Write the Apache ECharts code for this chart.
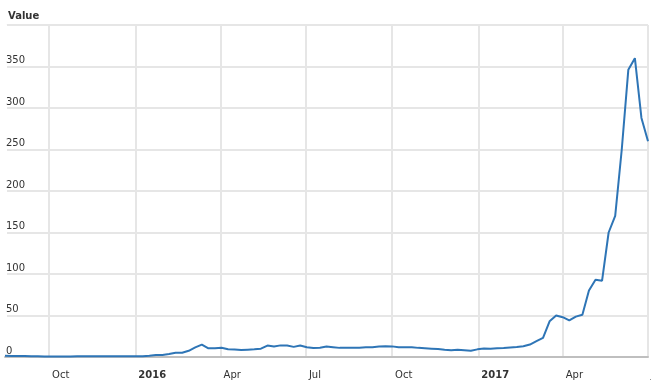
<!DOCTYPE html>
<html>
<head>
<meta charset="utf-8">
<script src="https://cdn.jsdelivr.net/npm/echarts@6/dist/echarts.min.js"></script>
<style>html,body{margin:0;padding:0;background:#fff;}#c{width:651px;height:387px;}</style>
</head>
<body>
<div id="c"></div>
<script>
var dates = [
'2015-08-15','2015-08-22','2015-08-29','2015-09-05','2015-09-12','2015-09-19','2015-09-26','2015-10-03','2015-10-10','2015-10-17',
'2015-10-24','2015-10-31','2015-11-07','2015-11-14','2015-11-21','2015-11-28','2015-12-05','2015-12-12','2015-12-19','2015-12-26',
'2016-01-02','2016-01-09','2016-01-16','2016-01-23','2016-01-30','2016-02-06','2016-02-13','2016-02-20','2016-02-27','2016-03-05',
'2016-03-12','2016-03-19','2016-03-26','2016-04-02','2016-04-09','2016-04-16','2016-04-23','2016-04-30','2016-05-07','2016-05-14',
'2016-05-21','2016-05-28','2016-06-04','2016-06-11','2016-06-18','2016-06-25','2016-07-02','2016-07-09','2016-07-16','2016-07-23',
'2016-07-30','2016-08-06','2016-08-13','2016-08-20','2016-08-27','2016-09-03','2016-09-10','2016-09-17','2016-09-24','2016-10-01',
'2016-10-08','2016-10-15','2016-10-22','2016-10-29','2016-11-05','2016-11-12','2016-11-19','2016-11-26','2016-12-03','2016-12-10',
'2016-12-17','2016-12-24','2016-12-31',
'2017-01-07','2017-01-14','2017-01-21','2017-01-28','2017-02-04','2017-02-11','2017-02-18','2017-02-25','2017-03-04','2017-03-11',
'2017-03-18','2017-03-25','2017-04-01','2017-04-08','2017-04-15','2017-04-22','2017-04-29','2017-05-06','2017-05-13','2017-05-20',
'2017-05-27','2017-06-03','2017-06-10','2017-06-17','2017-06-24','2017-07-01'
];
var values = [
1.5,1.3,1.3,1.3,1.0,0.9,0.7,0.6,0.6,0.5,
0.6,1.0,1.0,0.9,0.9,0.9,0.85,0.9,0.9,0.9,
1.0,1.0,1.5,2.3,2.5,3.5,5.0,5.2,7.5,11.5,
15,10.5,10.5,11.2,9.4,9,8.3,8.8,9.3,10,
13.8,12.6,14,13.8,12.2,13.8,11.8,10.8,11.2,12.6,
11.8,11,11,11,11.2,11.6,11.8,12.6,13,12.8,
11.8,11.8,11.8,11,10.5,10,9.5,8.6,8.0,8.6,
8.2,7.6,9.2,
10.2,10,10.6,10.8,11.4,12,13,15,19,23,
43,50,48,44,48.6,51,80,93,92,150,
170,250,346,360,288,260
];
var monthNames = ['Jan','Feb','Mar','Apr','May','Jun','Jul','Aug','Sep','Oct','Nov','Dec'];
var yTicks = [0,50,100,150,200,250,300,350];
var yMax = 400;
var axisTitle = 'Value';

var seriesData = dates.map(function(d,i){ return [d, values[i]]; });

var chart = echarts.init(document.getElementById('c'), null, {renderer:'canvas'});
chart.setOption({
  animation:false,
  backgroundColor:'#fff',
  textStyle:{fontFamily:'DejaVu Sans'},
  title:{text:axisTitle, left:3, top:6, textStyle:{fontFamily:'DejaVu Sans', fontSize:10, fontWeight:'bold', color:'#333'}},
  grid:{left:5, right:3, top:25, bottom:30, outerBoundsMode:'none', containLabel:false},
  xAxis:{
    type:'time',
    min:'2015-08-15', max:'2017-07-01',
    axisLine:{show:true, lineStyle:{color:'#bfbfbf', width:2}},
    axisTick:{show:false},
    splitLine:{show:true, showMinLine:false, showMaxLine:true, lineStyle:{color:'#e6e6e6', width:2}},
    axisLabel:{
      color:'#333', fontSize:10, fontFamily:'DejaVu Sans', align:'left', margin:13, padding:[0,0,0,3],
      showMinLabel:false, showMaxLabel:true, hideOverlap:false,
      formatter:function(v){ var d=new Date(v); if(d.getMonth()===0) return '{b|'+d.getFullYear()+'}'; return monthNames[d.getMonth()]; },
      rich:{b:{fontWeight:'bold', fontSize:10, fontFamily:'DejaVu Sans', color:'#333'}}
    }
  },
  yAxis:{
    type:'value', min:0, max:yMax, interval:50,
    axisLine:{show:true, onZero:false, lineStyle:{color:'#ffffff', width:3}}, axisTick:{show:false},
    splitLine:{show:true, lineStyle:{color:'#e6e6e6', width:2}},
    axisLabel:{
      inside:true, margin:1, color:'#333', fontSize:10, fontFamily:'DejaVu Sans', verticalAlign:'bottom', padding:[0,0,1,0],
      formatter:function(v){ return yTicks.indexOf(v)>=0 ? String(v) : ''; }
    }
  },
  series:[{
    type:'line', data:seriesData, showSymbol:false, symbol:'none',
    lineStyle:{color:'#2e75b6', width:2}, itemStyle:{color:'#2e75b6'}
  }]
});
</script>
</body>
</html>
